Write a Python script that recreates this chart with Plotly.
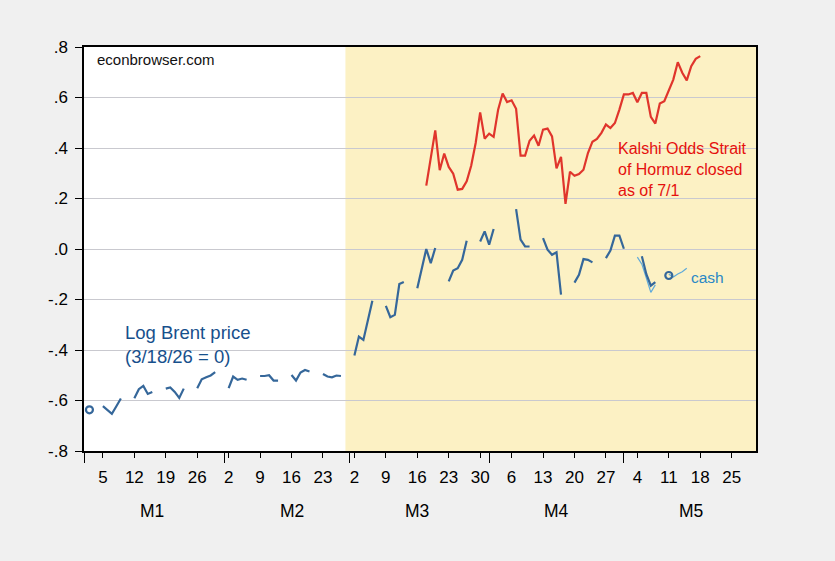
import pandas as pd
import plotly.graph_objects as go

# ---------------- data ----------------
brent_holidays = ["2026-04-03", "2026-04-06", "2026-05-04"]
brent_dates = [d for d in pd.bdate_range("2026-01-02", "2026-05-11")
               if d.strftime("%Y-%m-%d") not in brent_holidays]
brent_values = [
    -0.637,
    -0.622, -0.637, -0.653, -0.623, -0.592,
    -0.591, -0.555, -0.542, -0.574, -0.566,
    -0.553, -0.548, -0.566, -0.590, -0.553,
    -0.551, -0.516, -0.508, -0.501, -0.488,
    -0.551, -0.505, -0.518, -0.513, -0.518,
    -0.503, -0.503, -0.500, -0.521, -0.521,
    -0.499, -0.521, -0.489, -0.479, -0.485,
    -0.495, -0.505, -0.508, -0.501, -0.503,
    -0.422, -0.347, -0.360, -0.287, -0.205,
    -0.225, -0.270, -0.261, -0.139, -0.131,
    -0.155, -0.082, 0.000, -0.056, 0.004,
    -0.128, -0.085, -0.076, -0.043, 0.033,
    0.030, 0.070, 0.017, 0.079,
    0.158, 0.037, 0.010, 0.010,
    0.043, -0.003, -0.023, -0.013, -0.181,
    -0.133, -0.102, -0.040, -0.043, -0.053,
    -0.036, -0.006, 0.053, 0.053, 0.001,
    -0.029, -0.100, -0.145, -0.131,
    -0.105,
]

cash_dates = list(pd.bdate_range("2026-05-04", "2026-05-15"))
cash_values = [-0.032, -0.060, -0.115, -0.172, -0.142,
               -0.100, -0.111, -0.099, -0.090, -0.076]

kalshi_dates = list(pd.date_range("2026-03-18", "2026-05-18"))
kalshi_values = [
    0.251, 0.354, 0.470, 0.312, 0.378, 0.325, 0.298, 0.235, 0.238, 0.268,
    0.330, 0.420, 0.541, 0.437, 0.457, 0.444, 0.552, 0.616, 0.582, 0.589,
    0.555, 0.370, 0.370, 0.429, 0.449, 0.409, 0.473, 0.477, 0.446, 0.319,
    0.365, 0.179, 0.306, 0.290, 0.297, 0.314, 0.380, 0.425, 0.436, 0.460,
    0.493, 0.479, 0.499, 0.552,
    0.612, 0.612, 0.618, 0.581, 0.618, 0.618, 0.523, 0.497, 0.576, 0.585,
    0.625, 0.671, 0.740, 0.698, 0.668, 0.724, 0.753, 0.764,
]

y_tick_values = [-0.8, -0.6, -0.4, -0.2, 0.0, 0.2, 0.4, 0.6, 0.8]
y_tick_labels = ["-.8", "-.6", "-.4", "-.2", ".0", ".2", ".4", ".6", ".8"]
week_ticks = list(pd.date_range("2026-01-05", "2026-05-25", freq="7D"))
week_labels = [str(d.day) for d in week_ticks]
month_starts = list(pd.date_range("2026-01-01", "2026-05-01", freq="MS"))
month_names = ["M1", "M2", "M3", "M4", "M5"]
month_label_dates = [d + pd.Timedelta(days=15) for d in month_starts]
shade_start = "2026-02-28"
x_range = ["2025-12-31 19:00", "2026-05-30 10:00"]

assert len(brent_dates) == len(brent_values)
assert len(cash_dates) == len(cash_values)
assert len(kalshi_dates) == len(kalshi_values)


def with_gaps(dates, vals):
    xs, ys, prev = [], [], None
    for d, v in zip(dates, vals):
        if prev is not None and (d - prev).days > 1:
            xs.append(None)
            ys.append(None)
        xs.append(d)
        ys.append(v)
        prev = d
    return xs, ys


def isolated(dates, vals):
    xs, ys = [], []
    n = len(dates)
    for i in range(n):
        left = i == 0 or (dates[i] - dates[i - 1]).days > 1
        right = i == n - 1 or (dates[i + 1] - dates[i]).days > 1
        if left and right:
            xs.append(dates[i])
            ys.append(vals[i])
    return xs, ys


BLUE = "#35679A"
RED = "#E0352C"
LIGHT = "#5FAADA"
FONT = "Liberation Sans, Arial, sans-serif"

fig = go.Figure()

cx, cy = with_gaps(cash_dates, cash_values)
fig.add_trace(go.Scatter(x=cx, y=cy, mode="lines",
                         line=dict(color=LIGHT, width=1.2),
                         connectgaps=False, showlegend=False))

bx, by = with_gaps(brent_dates, brent_values)
fig.add_trace(go.Scatter(x=bx, y=by, mode="lines",
                         line=dict(color=BLUE, width=2.2),
                         connectgaps=False, showlegend=False))
ix, iy = isolated(brent_dates, brent_values)
fig.add_trace(go.Scatter(x=ix, y=iy, mode="markers",
                         marker=dict(symbol="circle-open", size=7, color=BLUE,
                                     line=dict(width=2.2, color=BLUE)),
                         showlegend=False))

fig.add_trace(go.Scatter(x=kalshi_dates, y=kalshi_values, mode="lines",
                         line=dict(color=RED, width=2.2), showlegend=False))

fig.add_shape(type="rect", xref="x", yref="paper", x0=shade_start, x1=x_range[1],
              y0=0, y1=1, fillcolor="#FCF1C4", line=dict(width=0), layer="below")

fig.add_annotation(x="2026-01-09 10:00", y=-0.38, xref="x", yref="y",
                   text="Log Brent price<br>(3/18/26 = 0)", showarrow=False,
                   xanchor="left", yanchor="middle", align="left",
                   font=dict(family=FONT, size=18.5, color="#17508C"))
fig.add_annotation(x="2026-04-29 05:00", y=0.314, xref="x", yref="y",
                   text="Kalshi Odds Strait<br>of Hormuz closed<br>as of 7/1",
                   showarrow=False, xanchor="left", yanchor="middle", align="left",
                   font=dict(family=FONT, size=16, color="#E5100E"))
fig.add_annotation(x="2026-05-15 12:00", y=-0.114, xref="x", yref="y",
                   text="cash", showarrow=False, xanchor="left", yanchor="middle",
                   font=dict(family=FONT, size=15.5, color="#2A88C6"))
fig.add_annotation(x=0.016, y=0.969, xref="paper", yref="paper",
                   text="econbrowser.com", showarrow=False, xanchor="left",
                   yanchor="middle", font=dict(family=FONT, size=15, color="#111111"))
for d, name in zip(month_label_dates, month_names):
    fig.add_annotation(x=d, y=-0.149, xref="x", yref="paper", text=name,
                       showarrow=False, xanchor="center", yanchor="middle",
                       font=dict(family=FONT, size=17.5, color="black"))

fig.update_layout(
    width=835, height=561,
    margin=dict(l=84, r=79, t=47, b=110),
    paper_bgcolor="#F0F0F0", plot_bgcolor="white",
    showlegend=False,
    font=dict(family=FONT, size=17, color="black"),
    xaxis=dict(type="date", range=x_range, tickmode="array",
               tickvals=week_ticks, ticktext=week_labels,
               ticks="outside", ticklen=5, tickwidth=1, tickcolor="black",
               showgrid=False, zeroline=False,
               showline=True, linecolor="black", linewidth=1.5, mirror=True,
               ticklabelstandoff=5,
               tickfont=dict(family=FONT, size=17, color="black"),
               minor=dict(tickmode="array", tickvals=month_starts, ticks="outside",
                          ticklen=10, tickwidth=1, tickcolor="black", showgrid=False)),
    yaxis=dict(range=[-0.8, 0.8], tickmode="array", tickvals=y_tick_values,
               ticktext=y_tick_labels, ticks="outside", ticklen=7, tickcolor="black",
               showgrid=True, gridcolor="#C9C9CF", gridwidth=1, zeroline=False,
               showline=True, linecolor="black", linewidth=1.5, mirror=True,
               ticklabelstandoff=4,
               tickfont=dict(family=FONT, size=17, color="black")),
)

fig.write_html(
    "out.html",
    config={"displayModeBar": False},
    post_script="document.body.style.margin='0';document.body.style.padding='0';"
                "document.body.style.background='#F0F0F0';",
)
